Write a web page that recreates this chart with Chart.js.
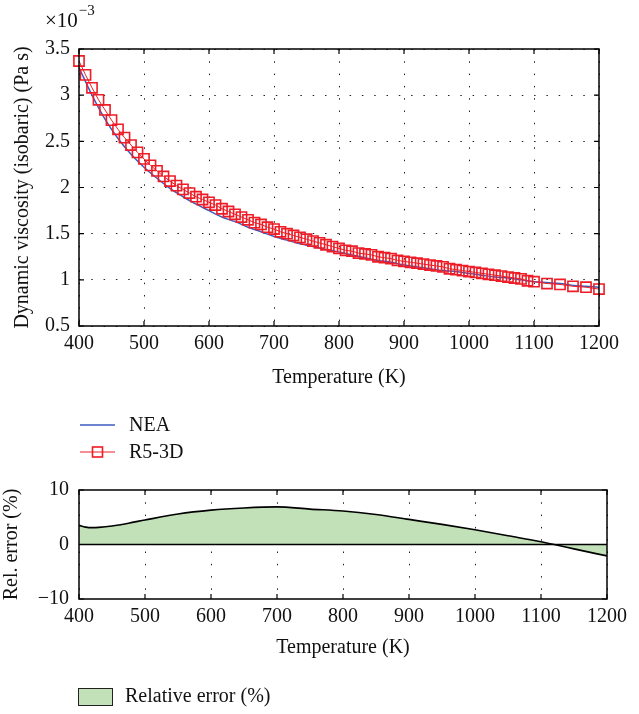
<!DOCTYPE html>
<html>
<head>
<meta charset="utf-8">
<script src="https://cdn.jsdelivr.net/npm/chart.js@4.4.1/dist/chart.umd.min.js"></script>
<style>
    body { margin: 0; background: #fff; }
    #wrap { position: relative; width: 639px; height: 714px; }
    #topChart { position: absolute; left: 0; top: 0; }
    #errChart { position: absolute; left: 0; top: 468px; }
</style>
</head>
<body>
<div id="wrap">
    <canvas id="topChart" width="639" height="468"></canvas>
    <canvas id="errChart" width="639" height="246"></canvas>
</div>
<script>
// temperatures (K) of the R5-3D markers
var r5Temps = [400, 410, 420, 430, 440, 450, 460, 470, 480, 490,
    500, 510, 520, 530, 540, 550, 560, 570, 580, 590,
    600, 610, 620, 630, 640, 650, 660, 670, 680, 690,
    700, 710, 720, 730, 740, 750, 760, 770, 780, 790,
    800, 810, 820, 830, 840, 850, 860, 870, 880, 890,
    900, 910, 920, 930, 940, 950, 960, 970, 980, 990,
    1000, 1010, 1020, 1030, 1040, 1050, 1060, 1070, 1080, 1090,
    1100, 1120, 1140, 1160, 1180, 1200];
// viscosity x 1e-3 Pa s
var r5Visc = [3.37, 3.22, 3.08, 2.95, 2.84, 2.73, 2.63, 2.54, 2.46, 2.38,
    2.31, 2.24, 2.18, 2.12, 2.07, 2.02, 1.98, 1.94, 1.90, 1.87,
    1.84, 1.81, 1.77, 1.74, 1.71, 1.68, 1.65, 1.62, 1.60, 1.57,
    1.55, 1.52, 1.50, 1.48, 1.46, 1.44, 1.42, 1.40, 1.38, 1.36,
    1.34, 1.32, 1.31, 1.29, 1.28, 1.27, 1.25, 1.24, 1.23, 1.21,
    1.20, 1.19, 1.18, 1.17, 1.16, 1.15, 1.14, 1.12, 1.11, 1.10,
    1.09, 1.08, 1.07, 1.06, 1.05, 1.04, 1.03, 1.02, 1.01, 0.99,
    0.98, 0.96, 0.95, 0.93, 0.92, 0.90];

var neaTemps = [400, 420, 440, 460, 480, 500, 520, 540, 560, 580,
    600, 620, 640, 660, 680, 700, 720, 740, 760, 780,
    800, 820, 840, 860, 880, 900, 920, 940, 960, 980,
    1000, 1020, 1040, 1060, 1080, 1100, 1120, 1140, 1160, 1180, 1200];
var neaVisc = [3.30, 3.00, 2.74, 2.53, 2.36, 2.22, 2.10, 1.99, 1.90, 1.82,
    1.75, 1.68, 1.63, 1.57, 1.52, 1.47, 1.43, 1.39, 1.36, 1.33,
    1.30, 1.27, 1.24, 1.21, 1.19, 1.16, 1.14, 1.12, 1.10, 1.09,
    1.07, 1.05, 1.03, 1.02, 1.00, 0.98, 0.97, 0.96, 0.94, 0.93, 0.92];

var errTemps = [400, 410, 420, 430, 450, 475, 500, 550, 600, 650, 700,
    750, 800, 850, 900, 950, 1000, 1050, 1100, 1120, 1150, 1200];
var errValues = [3.5, 3.2, 3.1, 3.15, 3.4, 3.9, 4.5, 5.6, 6.3, 6.7, 6.9,
    6.5, 6.15, 5.5, 4.6, 3.7, 2.7, 1.6, 0.5, 0, -0.8, -2.1];

var tempTicks = [400, 500, 600, 700, 800, 900, 1000, 1100, 1200];
var viscTicks = [0.5, 1, 1.5, 2, 2.5, 3, 3.5];
var errTicks = [-10, 0, 10];

var serif = '"Liberation Serif", "Times New Roman", serif';
Chart.defaults.font.family = serif;
Chart.defaults.font.size = 20;
Chart.defaults.color = '#111';

function toPoints(xs, ys) {
    return xs.map(function (x, i) { return { x: x, y: ys[i] }; });
}

function fixTicks(list) {
    return function (scale) {
        scale.ticks = list.map(function (v) { return { value: v }; });
    };
}

function plainLabel(v) {
    return v < 0 ? '\u2212' + Math.abs(v) : String(v);
}

// box round the plot with MATLAB style inward ticks
var boxPlugin = {
    id: 'box',
    afterDatasetsDraw: function (chart, args, opts) {
        var ctx = chart.ctx, a = chart.chartArea;
        var xs = chart.scales.x, ys = chart.scales.y;
        ctx.save();
        ctx.strokeStyle = '#000';
        if (opts.zeroLine) {
            var zy = ys.getPixelForValue(0);
            ctx.lineWidth = 1.5;
            ctx.beginPath();
            ctx.moveTo(a.left, zy);
            ctx.lineTo(a.right, zy);
            ctx.stroke();
        }
        ctx.lineWidth = 1.2;
        xs.ticks.forEach(function (t) {
            var px = xs.getPixelForValue(t.value);
            ctx.beginPath();
            ctx.moveTo(px, a.bottom); ctx.lineTo(px, a.bottom - 5);
            ctx.moveTo(px, a.top); ctx.lineTo(px, a.top + 5);
            ctx.stroke();
        });
        ys.ticks.forEach(function (t) {
            var py = ys.getPixelForValue(t.value);
            ctx.beginPath();
            ctx.moveTo(a.left, py); ctx.lineTo(a.left + 5, py);
            ctx.moveTo(a.right, py); ctx.lineTo(a.right - 5, py);
            ctx.stroke();
        });
        ctx.lineWidth = 1.5;
        ctx.strokeRect(a.left, a.top, a.right - a.left, a.bottom - a.top);
        ctx.restore();
    }
};

var topLegendPlugin = {
    id: 'topLegend',
    afterDraw: function (chart) {
        var ctx = chart.ctx;
        var ds = chart.data.datasets;
        ctx.save();
        // exponent
        ctx.fillStyle = '#111';
        ctx.textBaseline = 'alphabetic';
        ctx.font = '21px ' + serif;
        ctx.fillText('\u00d710', 45, 27);
        var w = ctx.measureText('\u00d710').width;
        ctx.font = '15px ' + serif;
        ctx.fillText('\u22123', 45 + w + 1, 15);

        ctx.font = '20px ' + serif;
        ctx.textBaseline = 'middle';
        var rows = [425, 452];
        ds.forEach(function (d, i) {
            var y = rows[i];
            ctx.strokeStyle = d.borderColor;
            ctx.lineWidth = d.borderWidth;
            ctx.beginPath();
            ctx.moveTo(80, y);
            ctx.lineTo(115, y);
            ctx.stroke();
            if (d.pointRadius > 0) {
                ctx.strokeStyle = d.pointBorderColor;
                ctx.lineWidth = d.pointBorderWidth;
                ctx.strokeRect(92.5, y - 5, 10, 10);
            }
            ctx.fillStyle = '#111';
            ctx.fillText(d.label, 129, y + 1);
        });
        ctx.restore();
    }
};

var errLegendPlugin = {
    id: 'errLegend',
    afterDraw: function (chart) {
        var ctx = chart.ctx;
        var d = chart.data.datasets[0];
        ctx.save();
        ctx.fillStyle = d.backgroundColor;
        ctx.fillRect(78, 220, 34, 17);
        ctx.strokeStyle = '#222';
        ctx.lineWidth = 1;
        ctx.strokeRect(78.5, 220.5, 34, 17);
        ctx.fillStyle = '#111';
        ctx.font = '20px ' + serif;
        ctx.textBaseline = 'middle';
        ctx.fillText(d.label, 125, 229);
        ctx.restore();
    }
};

var dotted = [1.5, 10.8];

new Chart(document.getElementById('topChart').getContext('2d'), {
    type: 'line',
    data: {
        datasets: [{
            label: 'NEA',
            data: toPoints(neaTemps, neaVisc),
            borderColor: '#3d5cc0',
            borderWidth: 1.5,
            pointRadius: 0,
            cubicInterpolationMode: 'monotone',
            order: 2
        }, {
            label: 'R5-3D',
            data: toPoints(r5Temps, r5Visc),
            borderColor: '#ee1c26',
            borderWidth: 1,
            pointStyle: 'rect',
            pointRadius: 7.2,
            pointBorderWidth: 1.6,
            pointBorderColor: '#ee1c26',
            pointBackgroundColor: 'rgba(0,0,0,0)',
            clip: false,
            order: 1
        }]
    },
    options: {
        responsive: false,
        animation: false,
        layout: { padding: { left: 0, right: 40, top: 49, bottom: 78 } },
        plugins: {
            legend: { display: false },
            tooltip: { enabled: false },
            box: { zeroLine: false }
        },
        scales: {
            x: {
                type: 'linear',
                min: 400,
                max: 1200,
                afterBuildTicks: fixTicks(tempTicks),
                afterFit: function (scale) { scale.height = 64; },
                ticks: { padding: 6, maxRotation: 0, callback: plainLabel },
                grid: { color: '#222', drawTicks: false },
                border: { display: false, dash: dotted },
                title: { display: true, text: 'Temperature (K)', padding: 0 }
            },
            y: {
                min: 0.5,
                max: 3.5,
                afterBuildTicks: fixTicks(viscTicks),
                afterFit: function (scale) { scale.width = 79; },
                ticks: { padding: 9, callback: plainLabel },
                grid: { color: '#222', drawTicks: false },
                border: { display: false, dash: dotted },
                title: {
                    display: true,
                    text: 'Dynamic viscosity (isobaric) (Pa s)',
                    padding: { top: 11, bottom: 0 }
                }
            }
        }
    },
    plugins: [boxPlugin, topLegendPlugin]
});

new Chart(document.getElementById('errChart').getContext('2d'), {
    type: 'line',
    data: {
        datasets: [{
            label: 'Relative error (%)',
            data: toPoints(errTemps, errValues),
            borderColor: '#000',
            borderWidth: 1.7,
            backgroundColor: '#c2e1b8',
            fill: 'origin',
            pointRadius: 0,
            cubicInterpolationMode: 'monotone'
        }]
    },
    options: {
        responsive: false,
        animation: false,
        layout: { padding: { left: 0, right: 32, top: 13, bottom: 54 } },
        plugins: {
            legend: { display: false },
            tooltip: { enabled: false },
            box: { zeroLine: true }
        },
        scales: {
            x: {
                type: 'linear',
                min: 400,
                max: 1200,
                afterBuildTicks: fixTicks(tempTicks),
                afterFit: function (scale) { scale.height = 61; },
                ticks: { padding: 6, maxRotation: 0, callback: plainLabel },
                grid: { color: '#222', drawTicks: false },
                border: { display: false, dash: dotted },
                title: { display: true, text: 'Temperature (K)', padding: 0 }
            },
            y: {
                min: -10,
                max: 10,
                afterBuildTicks: fixTicks(errTicks),
                afterFit: function (scale) { scale.width = 79; },
                ticks: { padding: 10, callback: plainLabel },
                grid: { display: false, drawTicks: false },
                border: { display: false },
                title: {
                    display: true,
                    text: 'Rel. error (%)',
                    padding: { top: 0, bottom: 0 }
                }
            }
        }
    },
    plugins: [boxPlugin, errLegendPlugin]
});
</script>
</body>
</html>
